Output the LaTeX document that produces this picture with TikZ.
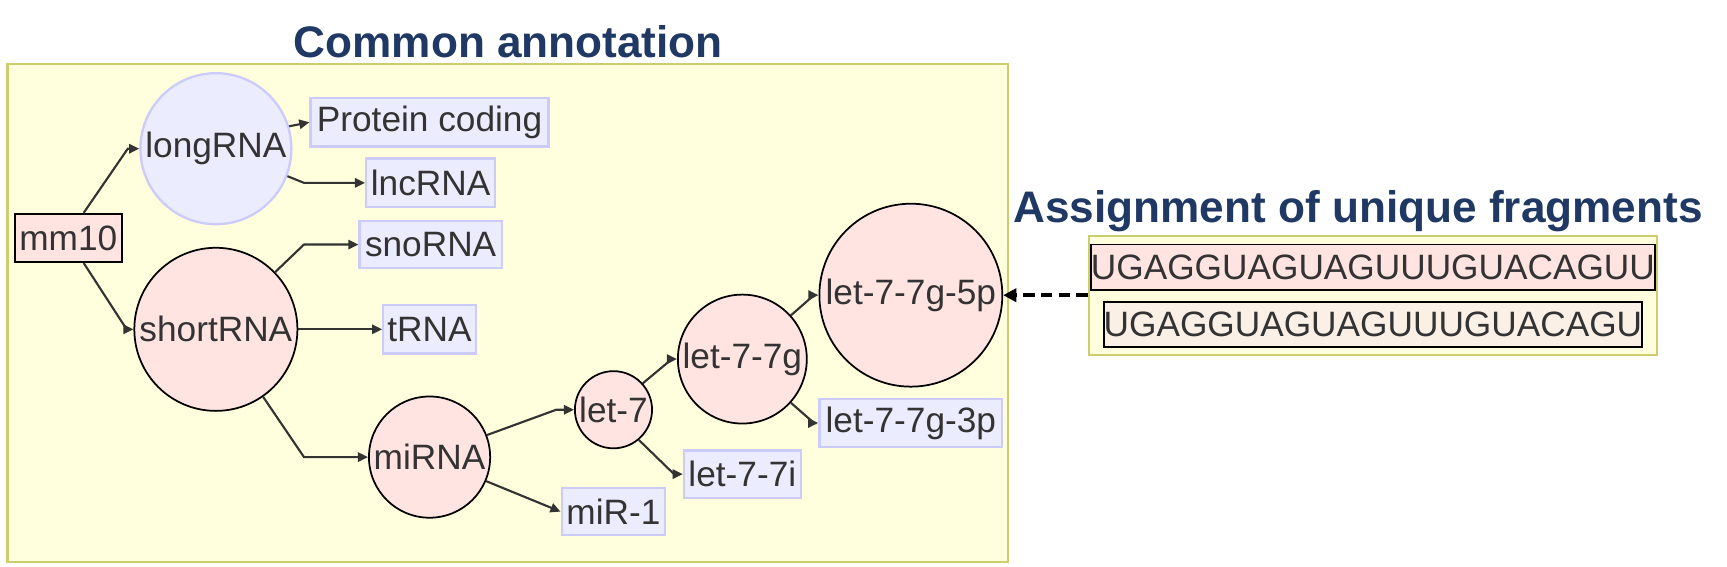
\documentclass[tikz,border=0pt]{standalone}
\usepackage{fontspec}
\setmainfont{Liberation Sans}
\usetikzlibrary{arrows.meta}
\definecolor{ybg}{RGB}{255,255,222}
\definecolor{yborder}{RGB}{205,205,110}
\definecolor{pinkf}{RGB}{255,228,225}
\definecolor{lavf}{RGB}{236,236,255}
\definecolor{lavb}{RGB}{204,204,250}
\definecolor{txt}{RGB}{51,51,51}
\definecolor{navy}{RGB}{31,56,100}
\definecolor{linenf}{RGB}{250,240,230}
\begin{document}
\begin{tikzpicture}[x=0.01cm,y=-0.01cm,
  every node/.style={text=txt, font=\fontsize{9.1}{11}\selectfont, inner sep=0pt},
  pcirc/.style={circle, fill=pinkf, draw=black, line width=0.45pt},
  lcirc/.style={circle, fill=lavf, draw=lavb, line width=0.6pt},
  bbox/.style={rectangle, fill=lavf, draw=lavb, line width=0.6pt},
  pbox/.style={rectangle, fill=pinkf, draw=black, line width=0.45pt},
  cluster/.style={rectangle, fill=ybg, draw=yborder, line width=0.6pt},
  ttl/.style={text=navy, font=\fontsize{11.4}{13}\selectfont\bfseries, anchor=base},
  conn/.style={draw=txt, line width=0.55pt, -{Triangle[length=2.6pt,width=2.4pt]}},
  dconn/.style={draw=black, line width=1pt, dash pattern=on 3pt off 1.6pt, -{Triangle[length=3.4pt,width=3.4pt]}}
]
\useasboundingbox (0,0) rectangle (1568,514);

% clusters
\node[cluster, minimum width=9.08cm, minimum height=4.52cm] (ann) at (461,284) {};
\node[cluster, minimum width=5.15cm, minimum height=1.08cm] (abox) at (1246.5,268) {};
\node[ttl] (t1) at (461.5,52) {Common annotation};
\node[ttl] (t2) at (1233,202) {Assignment of unique fragments};

% nodes
\node[pbox, minimum width=0.97cm, minimum height=0.44cm] (mm) at (62,216) {mm10};
\node[lcirc, minimum size=1.37cm] (long) at (196,135) {longRNA};
\node[bbox, minimum width=2.16cm, minimum height=0.44cm] (prot) at (390,111) {Protein coding};
\node[bbox, minimum width=1.17cm, minimum height=0.44cm] (lnc) at (391,166) {lncRNA};
\node[pcirc, minimum size=1.48cm] (short) at (196,299) {shortRNA};
\node[bbox, minimum width=1.29cm, minimum height=0.43cm] (sno) at (391,222) {snoRNA};
\node[bbox, minimum width=0.84cm, minimum height=0.44cm] (trna) at (390,299) {tRNA};
\node[pcirc, minimum size=1.10cm] (mirna) at (390,415) {miRNA};
\node[bbox, minimum width=0.94cm, minimum height=0.43cm] (mir1) at (557,464.5) {miR-1};
\node[pcirc, minimum size=0.70cm] (let) at (557,372) {let-7};
\node[bbox, minimum width=1.06cm, minimum height=0.43cm] (let7i) at (674,430.5) {let-7-7i};
\node[pcirc, minimum size=1.17cm] (letg) at (674,326) {let-7-7g};
\node[pcirc, minimum size=1.66cm] (let5p) at (827,268) {let-7-7g-5p};
\node[bbox, minimum width=1.66cm, minimum height=0.44cm] (let3p) at (827,384) {let-7-7g-3p};
\node[pbox, minimum width=5.03cm, minimum height=0.41cm] (seqa) at (1246.5,242.5) {UGAGGUAGUAGUUUGUACAGUU};
\node[rectangle, fill=linenf, draw=black, line width=0.45pt, minimum width=4.81cm, minimum height=0.41cm] (seqb) at (1246.5,294.5) {UGAGGUAGUAGUUUGUACAGU};

% connectors
\draw[conn] ([xshift=0.14cm]mm.north) -- (116,135) -- (long.west);
\draw[conn] ([xshift=0.14cm]mm.south) -- (115,299) -- (short.west);
\draw[conn] (long.17) -- (prot.west);
\draw[conn] (long.-21) -- (276,166) -- (lnc.west);
\draw[conn] (short.44) -- (276,222) -- (sno.west);
\draw[conn] (short.east) -- (trna.west);
\draw[conn] (short.-55) -- (276,415) -- (mirna.west);
\draw[conn] (mirna.21) -- (505,372) -- (let.west);
\draw[conn] (mirna.-23) -- (mir1.west);
\draw[conn] (let.42) -- (610,326) -- (letg.west);
\draw[conn] (let.-50) -- (612,430.5) -- (let7i.west);
\draw[conn] (letg.42) -- (739,268) -- (let5p.west);
\draw[conn] (letg.-42) -- (739,384) -- (let3p.west);
\draw[dconn] (abox.west) -- (let5p.east);
\end{tikzpicture}
\end{document}
